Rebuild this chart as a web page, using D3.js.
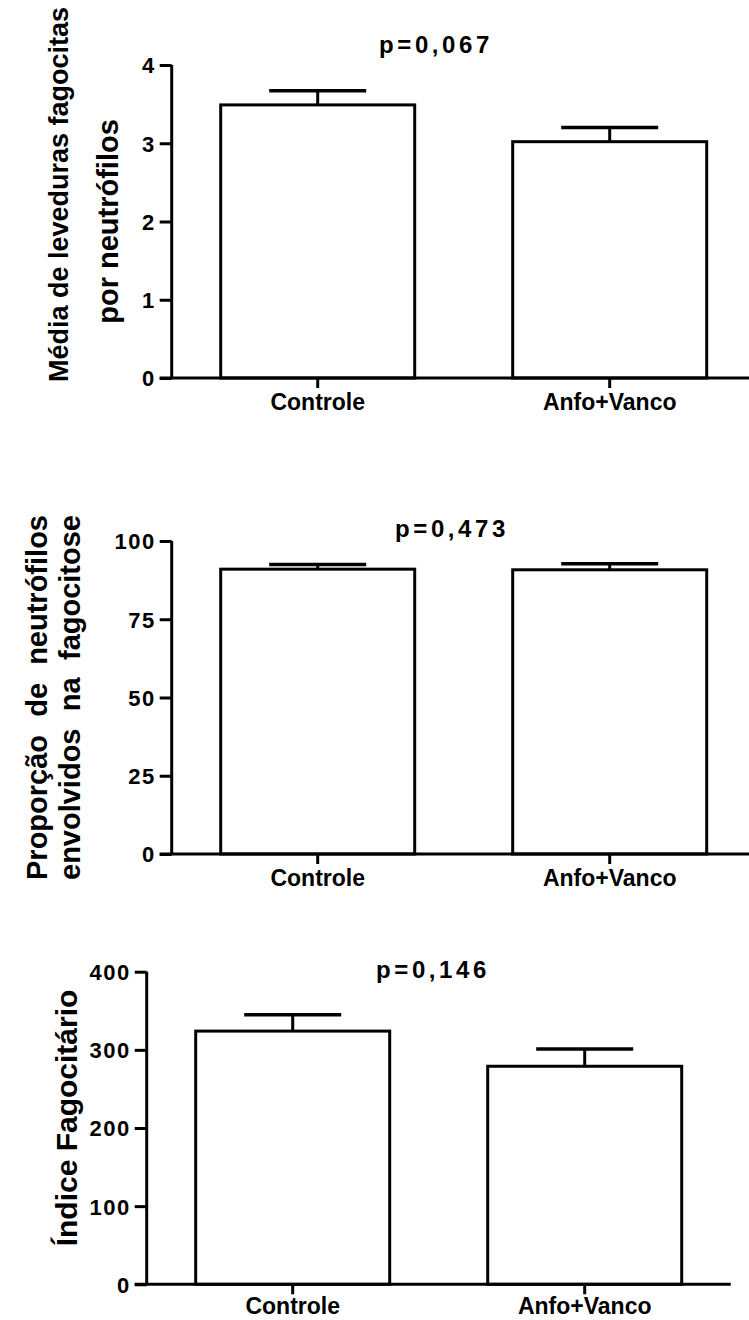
<!DOCTYPE html>
<html>
<head>
<meta charset="utf-8">
<script src="https://cdn.jsdelivr.net/npm/d3@7"></script>
<style>
  html, body { margin: 0; padding: 0; background: #fff; }
  svg { display: block; }
  text { font-family: Arial, "Liberation Sans", Helvetica, sans-serif; font-weight: bold; fill: #000; }
</style>
</head>
<body>
<svg id="chart" width="749" height="1320"></svg>
<script>
// Groups compared in every panel
const categories = ["Controle", "Anfo+Vanco"];

// Panel 1: mean yeasts phagocytosed per neutrophil
const meanYeast = [3.49, 3.02];
const meanYeastErr = [0.18, 0.18];
const meanYeastTicks = [0, 1, 2, 3, 4];

// Panel 2: proportion of neutrophils involved in phagocytosis (%)
const proportion = [91.0, 90.8];
const proportionErr = [1.5, 1.9];
const proportionTicks = [0, 25, 50, 75, 100];

// Panel 3: phagocytic index
const phagoIndex = [324, 279];
const phagoIndexErr = [21, 22];
const phagoIndexTicks = [0, 100, 200, 300, 400];

// p-values shown above each panel
const pValues = ["p=0,067", "p=0,473", "p=0,146"];

const svg = d3.select("#chart");

function panel(opt) {
  const g = svg.append("g");
  const x = d3.scaleBand()
    .domain(categories)
    .range([opt.left, opt.left + 584])
    .paddingInner(0.3356)
    .paddingOuter(0.1678);
  const y = d3.scaleLinear()
    .domain([0, opt.max])
    .range([opt.bottom, opt.top]);

  // bars
  g.selectAll("rect.bar").data(opt.values).join("rect")
    .attr("class", "bar")
    .attr("x", (d, i) => x(categories[i]))
    .attr("width", x.bandwidth())
    .attr("y", d => y(d))
    .attr("height", d => y(0) - y(d))
    .attr("fill", "#fff")
    .attr("stroke", "#000")
    .attr("stroke-width", 3);

  // error bars (upper side only)
  const capHalf = x.bandwidth() / 4;
  opt.values.forEach((v, i) => {
    const cx = x(categories[i]) + x.bandwidth() / 2;
    g.append("line")
      .attr("x1", cx).attr("x2", cx)
      .attr("y1", y(v)).attr("y2", y(v + opt.errors[i]))
      .attr("stroke", "#000").attr("stroke-width", 3);
    g.append("line")
      .attr("x1", cx - capHalf).attr("x2", cx + capHalf)
      .attr("y1", y(v + opt.errors[i])).attr("y2", y(v + opt.errors[i]))
      .attr("stroke", "#000").attr("stroke-width", 3.5);
  });

  // y axis
  const yAxis = g.append("g")
    .attr("transform", `translate(${opt.left},0)`)
    .call(d3.axisLeft(y).tickValues(opt.ticks).tickSize(12).tickPadding(4).tickFormat(d3.format("d")));
  yAxis.select(".domain").attr("d", `M0,${y(opt.max)}V${y(0)}`).attr("stroke-width", 3);
  yAxis.selectAll(".tick line").attr("stroke-width", 3);
  yAxis.selectAll(".tick text")
    .style("font-size", "22px")
    .style("letter-spacing", "1.5px")
    .attr("dy", "0.36em");

  // x axis
  const xAxis = g.append("g")
    .attr("transform", `translate(0,${opt.bottom})`)
    .call(d3.axisBottom(x).tickSize(10).tickPadding(opt.labelPad || 6));
  xAxis.select(".domain").attr("d", `M${opt.left - 12},0H${opt.left + 584}`).attr("stroke-width", 3);
  xAxis.selectAll(".tick line").attr("stroke-width", 3);
  xAxis.selectAll(".tick text").style("font-size", "23px");

  // p-value
  g.append("text")
    .attr("x", opt.pX).attr("y", opt.pY)
    .attr("text-anchor", "middle")
    .style("font-size", "24px")
    .style("letter-spacing", "3.6px")
    .text(opt.p);

  // y-axis title (rotated lines, optionally justified word by word)
  const midY = (opt.top + opt.bottom) / 2;
  opt.title.forEach(line => {
    const t = g.append("text")
      .attr("transform", `translate(${line.x},${midY + (line.shift || 0)}) rotate(-90)`)
      .style("font-size", (line.size || 29) + "px");
    if (line.justify) {
      const words = line.text.split(" ");
      const spans = words.map(w => t.append("tspan").text(w));
      const widths = spans.map(s => s.node().getComputedTextLength());
      const gap = (line.justify - d3.sum(widths)) / (words.length - 1);
      let pos = -line.justify / 2;
      spans.forEach((s, k) => { s.attr("x", pos); pos += widths[k] + gap; });
    } else {
      t.attr("text-anchor", "middle").text(line.text);
    }
  });
}

panel({
  left: 171.7, top: 65, bottom: 378, max: 4,
  values: meanYeast, errors: meanYeastErr, ticks: meanYeastTicks,
  p: pValues[0], pX: 436, pY: 53,
  title: [
    { text: "Média de leveduras fagocitas", x: 68, size: 27, shift: -27 },
    { text: "por neutrófilos", x: 118 }
  ]
});

panel({
  left: 171.7, top: 541, bottom: 854, max: 100,
  values: proportion, errors: proportionErr, ticks: proportionTicks,
  p: pValues[1], pX: 452, pY: 537,
  title: [
    { text: "Proporção de neutrófilos", x: 47, justify: 365 },
    { text: "envolvidos na fagocitose", x: 80, justify: 365 }
  ]
});

panel({
  left: 146.7, top: 971.7, bottom: 1284.3, max: 400,
  values: phagoIndex, errors: phagoIndexErr, ticks: phagoIndexTicks,
  p: pValues[2], pX: 433, pY: 978, labelPad: 3,
  title: [
    { text: "Índice Fagocitário", x: 77, size: 30, shift: -10 }
  ]
});
</script>
</body>
</html>
